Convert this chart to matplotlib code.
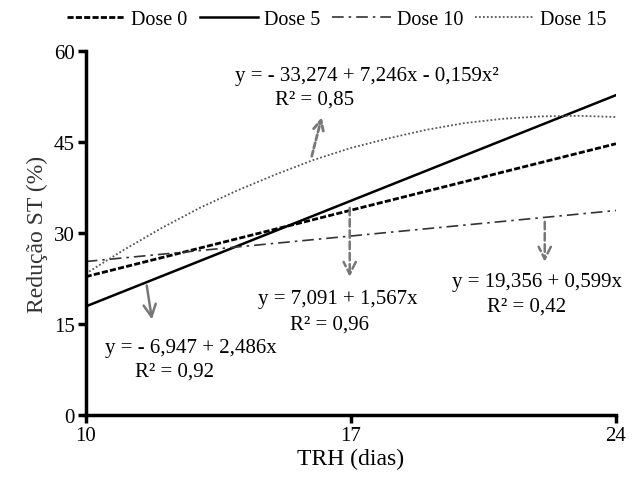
import matplotlib.pyplot as plt

plt.rcParams['font.family'] = ['Liberation Serif', 'DejaVu Serif']
plt.rcParams['font.size'] = 15

# values
x_lin = [10, 24]
dose0 = [22.8, 44.7]
dose5 = [17.9, 52.7]
dose10 = [25.3, 33.7]

x_quad = [10, 11, 12, 13, 14, 15, 16, 17, 18, 19, 20, 21, 22, 23, 24]
dose15 = [23.3, 27.2, 30.8, 34.1, 37.0, 39.6, 42.0, 44.0, 45.6, 47.0,
          48.1, 48.8, 49.2, 49.3, 49.1]

x_ticks = [10, 17, 24]
y_ticks = [0, 15, 30, 45, 60]

fig = plt.figure(figsize=(6.35, 4.89), dpi=100)
ax = fig.add_axes((0.135, 0.149, 0.835, 0.745))

ax.plot(x_lin, dose0, color='black', lw=2.0, ls=(0, (2.2, 0.8)), label='Dose 0')
ax.plot(x_lin, dose5, color='black', lw=1.8, ls='-', label='Dose 5')
ax.plot(x_lin, dose10, color='#333333', lw=1.2, ls=(0, (7, 3, 1.5, 3)), label='Dose 10')
ax.plot(x_quad, dose15, color='#555555', lw=1.3, ls=(0, (1, 1.2)), label='Dose 15')

ax.set_xlim(10, 24)
ax.set_ylim(0, 60)
ax.set_xticks(x_ticks)
ax.set_yticks(y_ticks)
ax.set_xlabel('TRH (dias)', fontsize=17, labelpad=2)
ax.set_ylabel('Redução ST (%)', fontsize=17, color='#333333', labelpad=4)

for side in ['top', 'right']:
    ax.spines[side].set_visible(False)
for side in ['left', 'bottom']:
    ax.spines[side].set_linewidth(2.5)
ax.tick_params(direction='out', length=6, width=2.5, labelsize=15, pad=2)

gray = '#777777'
eq_size = 15

# equation labels
ax.text(13.94, 56.0, 'y = - 33,274 + 7,246x - 0,159x²', va='center', ha='left', fontsize=eq_size)
ax.text(14.99, 52.1, 'R² = 0,85', va='center', ha='left', fontsize=eq_size)
ax.annotate('', xy=(16.25, 49.5), xytext=(15.95, 42.2),
            arrowprops=dict(arrowstyle='->', color=gray, lw=2, ls=(0, (2, 1)),
                            mutation_scale=18))

ax.text(10.5, 11.2, 'y = - 6,947 + 2,486x', va='center', ha='left', fontsize=eq_size)
ax.text(11.29, 7.3, 'R² = 0,92', va='center', ha='left', fontsize=eq_size)
ax.annotate('', xy=(11.76, 15.3), xytext=(11.6, 21.8),
            arrowprops=dict(arrowstyle='->', color=gray, lw=1.8,
                            mutation_scale=22))

ax.text(14.54, 19.2, 'y = 7,091 + 1,567x', va='center', ha='left', fontsize=eq_size)
ax.text(15.39, 15.0, 'R² = 0,96', va='center', ha='left', fontsize=eq_size)
ax.annotate('', xy=(16.97, 22.3), xytext=(16.97, 34.6),
            arrowprops=dict(arrowstyle='->', color=gray, lw=1.8, ls=(0, (3, 1.5)),
                            mutation_scale=22))

ax.text(19.67, 22.0, 'y = 19,356 + 0,599x', va='center', ha='left', fontsize=eq_size)
ax.text(20.59, 17.9, 'R² = 0,42', va='center', ha='left', fontsize=eq_size)
ax.annotate('', xy=(22.12, 24.8), xytext=(22.12, 32.3),
            arrowprops=dict(arrowstyle='->', color=gray, lw=1.8, ls=(0, (3, 1.5)),
                            mutation_scale=22))

fig.legend(loc='upper center', bbox_to_anchor=(0.53, 1.015), ncol=4, frameon=False,
           handlelength=2.9, handletextpad=0.3, columnspacing=0.6, fontsize=14.5)

fig.savefig('out.png', dpi=100)
